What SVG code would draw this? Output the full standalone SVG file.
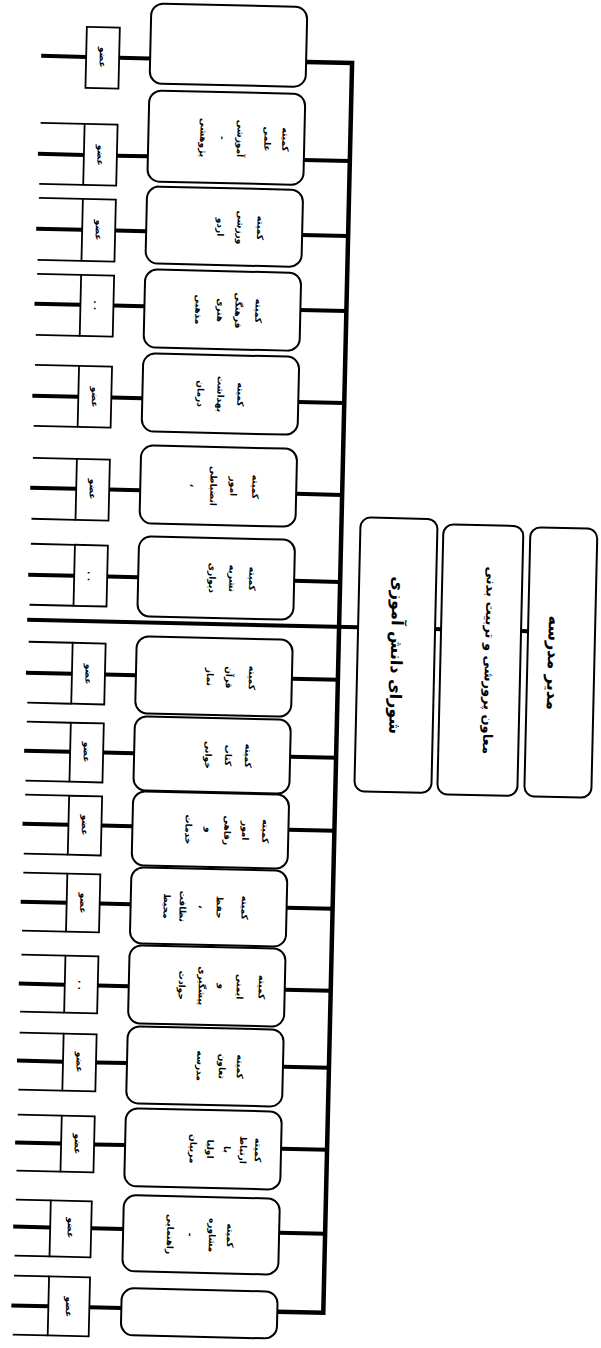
<svg xmlns="http://www.w3.org/2000/svg" width="601" height="1348" viewBox="0 0 601 1348">
<style>
.box{fill:#fff;stroke:#000;stroke-width:2}
.sb{fill:#fff;stroke:#000;stroke-width:1.8}
.thin{stroke:#000;stroke-width:1.8;fill:none}
.thick{stroke:#000;stroke-width:4;fill:none}
.bus{stroke:#000;stroke-width:4.5;fill:none;stroke-linejoin:miter}
.t{font-family:"DejaVu Sans",sans-serif;font-weight:bold;font-size:9px;text-anchor:middle;dominant-baseline:central;fill:#000}
.m{font-family:"DejaVu Sans",sans-serif;font-weight:bold;text-anchor:middle;dominant-baseline:central;fill:#000}
</style>
<rect width="601" height="1348" fill="#fff"/>
<g transform="rotate(1.32 300 674)">
<g id="connectors">
<path class="bus" d="M292 62 H338 V1312 H292"/>
<path class="thick" d="M27 62 H72 M105 62 H136"/>
<path class="thick" d="M26 160 H72 M105 160 H136 M292 160 H338"/>
<path class="thin" d="M28 129 H72 M28 190 H72"/>
<path class="thick" d="M26 235 H72 M105 235 H136 M292 235 H338"/>
<path class="thin" d="M28 204 H72 M28 266 H72"/>
<path class="thick" d="M26 310 H72 M105 310 H136 M292 310 H338"/>
<path class="thin" d="M28 280 H72 M28 341 H72"/>
<path class="thick" d="M26 402 H72 M105 402 H136 M292 402 H338"/>
<path class="thin" d="M28 371 H72 M28 432 H72"/>
<path class="thick" d="M26 494 H72 M105 494 H136 M292 494 H338"/>
<path class="thin" d="M28 464 H72 M28 525 H72"/>
<path class="thick" d="M26 581 H72 M105 581 H136 M292 581 H338"/>
<path class="thin" d="M28 550 H72 M28 611 H72"/>
<path class="thick" d="M26 679 H72 M105 679 H136 M292 679 H338"/>
<path class="thin" d="M28 648 H72 M28 709 H72"/>
<path class="thick" d="M26 757 H72 M105 757 H136 M292 757 H338"/>
<path class="thin" d="M28 728 H72 M28 787 H72"/>
<path class="thick" d="M26 830 H72 M105 830 H136 M292 830 H338"/>
<path class="thin" d="M28 801 H72 M28 860 H72"/>
<path class="thick" d="M26 908 H72 M105 908 H136 M292 908 H338"/>
<path class="thin" d="M28 879 H72 M28 937 H72"/>
<path class="thick" d="M26 990 H72 M105 990 H136 M292 990 H338"/>
<path class="thin" d="M28 961 H72 M28 1018 H72"/>
<path class="thick" d="M26 1067 H72 M105 1067 H136 M292 1067 H338"/>
<path class="thin" d="M28 1039 H72 M28 1096 H72"/>
<path class="thick" d="M26 1149 H72 M105 1149 H136 M292 1149 H338"/>
<path class="thin" d="M28 1121 H72 M28 1177 H72"/>
<path class="thick" d="M26 1233 H63 M104 1233 H136 M292 1233 H338"/>
<path class="thin" d="M28 1206 H63 M28 1262 H63"/>
<path class="thick" d="M26 1312 H63 M104 1312 H136"/>
<path class="thin" d="M28 1282 H63 M28 1341 H63"/>
<path class="thick" d="M26 626 H357 M434 626 H440 M520 626 H527"/>
</g>
<g id="n1"><rect class="box" x="136" y="7" width="156" height="80" rx="12"/></g>
<g id="s1"><rect class="sb" x="72" y="32" width="33" height="61"/><text class="t" transform="translate(88.5 62) rotate(90)">عضو</text></g>
<g id="n2"><rect class="box" x="136" y="94" width="156" height="91" rx="12"/>
<text class="t" transform="translate(273 140) rotate(90)">کمیته</text><text class="t" transform="translate(255 140) rotate(90)">علمی</text><text class="t" transform="translate(228 140) rotate(90)">آموزشی</text><text class="t" transform="translate(210 140) rotate(90)">-</text><text class="t" transform="translate(191 140) rotate(90)">پژوهشی</text></g>
<g id="s2"><rect class="sb" x="72" y="129" width="33" height="61"/><text class="t" transform="translate(88.5 160) rotate(90)">عضو</text></g>
<g id="n3"><rect class="box" x="136" y="190" width="156" height="77" rx="12"/>
<text class="t" transform="translate(250 229) rotate(90)">کمیته</text><text class="t" transform="translate(230 229) rotate(90)">ورزشی</text><text class="t" transform="translate(210 229) rotate(90)">اردو</text></g>
<g id="s3"><rect class="sb" x="72" y="204" width="33" height="62"/><text class="t" transform="translate(88.5 235) rotate(90)">عضو</text></g>
<g id="n4"><rect class="box" x="136" y="273" width="156" height="78" rx="12"/>
<text class="t" transform="translate(250 312) rotate(90)">کمیته</text><text class="t" transform="translate(230 312) rotate(90)">فرهنگی</text><text class="t" transform="translate(212 312) rotate(90)">هنری</text><text class="t" transform="translate(190 312) rotate(90)">مذهبی</text></g>
<g id="s4"><rect class="sb" x="72" y="280" width="33" height="61"/><text class="t" transform="translate(88.5 310) rotate(90)">. .</text></g>
<g id="n5"><rect class="box" x="136" y="357" width="156" height="78" rx="12"/>
<text class="t" transform="translate(234 396) rotate(90)">کمیته</text><text class="t" transform="translate(214 396) rotate(90)">بهداشت</text><text class="t" transform="translate(194 396) rotate(90)">درمان</text></g>
<g id="s5"><rect class="sb" x="72" y="371" width="33" height="61"/><text class="t" transform="translate(88.5 402) rotate(90)">عضو</text></g>
<g id="n6"><rect class="box" x="136" y="449" width="156" height="78" rx="12"/>
<text class="t" transform="translate(251 488) rotate(90)">کمیته</text><text class="t" transform="translate(229 488) rotate(90)">امور</text><text class="t" transform="translate(209 488) rotate(90)">انضباطی</text><text class="t" transform="translate(189 488) rotate(90)">،</text></g>
<g id="s6"><rect class="sb" x="72" y="464" width="33" height="61"/><text class="t" transform="translate(88.5 494) rotate(90)">عضو</text></g>
<g id="n7"><rect class="box" x="136" y="540" width="156" height="80" rx="12"/>
<text class="t" transform="translate(250 580) rotate(90)">کمیته</text><text class="t" transform="translate(230 580) rotate(90)">نشریه</text><text class="t" transform="translate(210 580) rotate(90)">دیواری</text></g>
<g id="s7"><rect class="sb" x="72" y="550" width="33" height="61"/><text class="t" transform="translate(88.5 581) rotate(90)">. .</text></g>
<g id="n8"><rect class="box" x="136" y="640" width="156" height="77" rx="12"/>
<text class="t" transform="translate(252 679) rotate(90)">کمیته</text><text class="t" transform="translate(229 679) rotate(90)">قرآن</text><text class="t" transform="translate(210 679) rotate(90)">نماز</text></g>
<g id="s8"><rect class="sb" x="72" y="648" width="33" height="61"/><text class="t" transform="translate(88.5 679) rotate(90)">عضو</text></g>
<g id="n9"><rect class="box" x="136" y="720" width="156" height="74" rx="12"/>
<text class="t" transform="translate(250 757) rotate(90)">کمیته</text><text class="t" transform="translate(230 757) rotate(90)">کتاب</text><text class="t" transform="translate(210 757) rotate(90)">خوانی</text></g>
<g id="s9"><rect class="sb" x="72" y="728" width="33" height="59"/><text class="t" transform="translate(88.5 757) rotate(90)">عضو</text></g>
<g id="n10"><rect class="box" x="136" y="795" width="156" height="74" rx="12"/>
<text class="t" transform="translate(269 832) rotate(90)">کمیته</text><text class="t" transform="translate(249 832) rotate(90)">امور</text><text class="t" transform="translate(231 832) rotate(90)">رفاهی</text><text class="t" transform="translate(212 832) rotate(90)">و</text><text class="t" transform="translate(192 832) rotate(90)">خدمات</text></g>
<g id="s10"><rect class="sb" x="72" y="801" width="33" height="59"/><text class="t" transform="translate(88.5 830) rotate(90)">عضو</text></g>
<g id="n11"><rect class="box" x="136" y="871" width="156" height="76" rx="12"/>
<text class="t" transform="translate(250 909) rotate(90)">کمیته</text><text class="t" transform="translate(225 909) rotate(90)">حفظ</text><text class="t" transform="translate(207 909) rotate(90)">،</text><text class="t" transform="translate(188 909) rotate(90)">نظافت</text><text class="t" transform="translate(172 909) rotate(90)">محیط</text></g>
<g id="s11"><rect class="sb" x="72" y="879" width="33" height="58"/><text class="t" transform="translate(88.5 908) rotate(90)">عضو</text></g>
<g id="n12"><rect class="box" x="136" y="949" width="156" height="78" rx="12"/>
<text class="t" transform="translate(269 988) rotate(90)">کمیته</text><text class="t" transform="translate(247 988) rotate(90)">ایمنی</text><text class="t" transform="translate(229 988) rotate(90)">و</text><text class="t" transform="translate(209 988) rotate(90)">پیشگیری</text><text class="t" transform="translate(189 988) rotate(90)">حوادث</text></g>
<g id="s12"><rect class="sb" x="72" y="961" width="33" height="57"/><text class="t" transform="translate(88.5 990) rotate(90)">. .</text></g>
<g id="n13"><rect class="box" x="136" y="1030" width="156" height="77" rx="12"/>
<text class="t" transform="translate(249 1068) rotate(90)">کمیته</text><text class="t" transform="translate(231 1068) rotate(90)">تعاون</text><text class="t" transform="translate(209 1068) rotate(90)">مدرسه</text></g>
<g id="s13"><rect class="sb" x="72" y="1039" width="33" height="57"/><text class="t" transform="translate(88.5 1067) rotate(90)">عضو</text></g>
<g id="n14"><rect class="box" x="136" y="1112" width="156" height="78" rx="12"/>
<text class="t" transform="translate(269 1151) rotate(90)">کمیته</text><text class="t" transform="translate(254 1151) rotate(90)">ارتباط</text><text class="t" transform="translate(238 1151) rotate(90)">با</text><text class="t" transform="translate(221 1151) rotate(90)">اولیا</text><text class="t" transform="translate(204 1151) rotate(90)">مربیان</text></g>
<g id="s14"><rect class="sb" x="72" y="1121" width="33" height="56"/><text class="t" transform="translate(88.5 1149) rotate(90)">عضو</text></g>
<g id="n15"><rect class="box" x="136" y="1199" width="156" height="76" rx="12"/>
<text class="t" transform="translate(243 1237) rotate(90)">کمیته</text><text class="t" transform="translate(225 1237) rotate(90)">مشاوره</text><text class="t" transform="translate(203 1237) rotate(90)">-</text><text class="t" transform="translate(183 1237) rotate(90)">راهنمایی</text></g>
<g id="s15"><rect class="sb" x="63" y="1206" width="41" height="56"/><text class="t" transform="translate(83.5 1233) rotate(90)">عضو</text></g>
<g id="n16"><rect class="box" x="136" y="1292" width="156" height="47" rx="12"/></g>
<g id="s16"><rect class="sb" x="63" y="1282" width="41" height="59"/><text class="t" transform="translate(83.5 1312) rotate(90)">عضو</text></g>
<g id="shura"><rect class="box" x="357" y="516" width="77" height="274" rx="10"/>
<text class="m" font-size="16" transform="translate(396 653) rotate(90)">شورای دانش آموزی</text></g>
<g id="moaven"><rect class="box" x="440" y="521" width="80" height="270" rx="10"/>
<text class="m" font-size="13" transform="translate(489 656) rotate(90)">معاون پرورشی و تربیت بدنی</text></g>
<g id="modir"><rect class="box" x="527" y="522" width="67" height="269" rx="10"/>
<text class="m" font-size="16" transform="translate(553 657) rotate(90)">مدیر مدرسه</text></g>
</g>
</svg>
